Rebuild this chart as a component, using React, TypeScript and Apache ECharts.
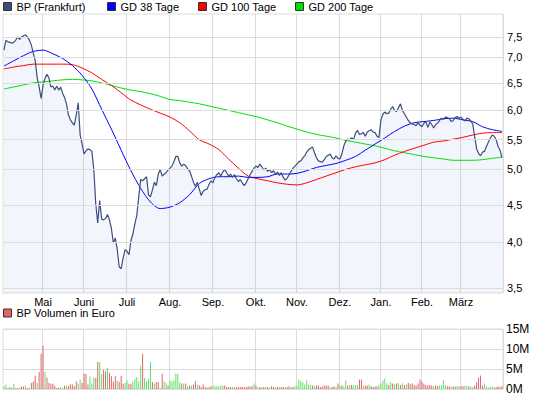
import React, { useEffect, useRef } from "react";
import * as echarts from "echarts";

// ---- data -------------------------------------------------------------
const firstDay = "2010-04-01";
const lastDay = "2011-03-30";
const holidays = ["2010-04-02", "2010-04-05", "2010-12-24", "2010-12-31"];
const monthNames = ["Jan.", "Feb.", "März", "Apr.", "Mai", "Juni", "Juli", "Aug.", "Sep.", "Okt.", "Nov.", "Dez."];
const priceTicks = [3.5, 4.0, 4.5, 5.0, 5.5, 6.0, 6.5, 7.0, 7.5];
const priceMin = 3.437;
const priceMax = 8.01;
const volumeTicks = [0, 5, 10, 15];
const legendNames = ["BP (Frankfurt)", "GD 38 Tage", "GD 100 Tage", "GD 200 Tage"];

// BP (Frankfurt) closing price, EUR, one value per trading day
const price = [
  7.18, 7.40, 7.36, 7.35, 7.33, 7.35, 7.40, 7.47, 7.42, 7.47,
  7.50, 7.52, 7.47, 7.40, 7.29, 7.12, 6.95, 6.60, 6.42, 6.20,
  6.45, 6.59, 6.67, 6.60, 6.42, 6.44, 6.36, 6.44, 6.36, 6.42,
  6.30, 6.22, 6.10, 5.90, 5.81, 5.76, 5.72, 5.90, 6.12, 5.55,
  5.40, 5.24, 5.29, 5.32, 5.31, 5.28, 5.00, 4.50, 4.25, 4.55,
  4.30, 4.29, 4.31, 4.36, 4.29, 4.18, 4.00, 4.06, 3.92, 3.72,
  3.70, 3.82, 3.92, 3.90, 3.86, 4.03, 4.11, 4.24, 4.35, 4.60,
  4.85, 4.83, 4.86, 4.89, 4.63, 4.60, 4.70, 4.81, 4.76, 4.93,
  5.00, 4.90, 4.93, 4.95, 4.99, 5.02, 5.05, 5.12, 5.20, 5.20,
  5.10, 5.05, 5.08, 5.06, 5.01, 4.98, 4.90, 4.81, 4.75, 4.81,
  4.71, 4.62, 4.68, 4.70, 4.71, 4.78, 4.83, 4.80, 4.88, 4.92,
  4.95, 4.90, 4.96, 5.00, 4.95, 4.90, 4.93, 4.88, 4.92, 4.86,
  4.82, 4.85, 4.80, 4.76, 4.80, 4.86, 4.92, 4.97, 5.02, 5.05,
  5.03, 5.08, 5.04, 4.99, 5.02, 4.97, 5.00, 4.95, 4.98, 4.93,
  4.96, 4.91, 4.95, 4.88, 4.84, 4.87, 4.92, 4.97, 5.02, 5.05,
  5.08, 5.12, 5.13, 5.18, 5.21, 5.27, 5.31, 5.33, 5.35, 5.26,
  5.18, 5.13, 5.12, 5.11, 5.15, 5.20, 5.22, 5.24, 5.18, 5.16,
  5.21, 5.17, 5.16, 5.24, 5.37, 5.45, 5.48, 5.47, 5.50, 5.48,
  5.58, 5.63, 5.56, 5.57, 5.59, 5.53, 5.60, 5.62, 5.64, 5.60,
  5.59, 5.53, 5.51, 5.81, 5.91, 5.95, 5.92, 5.93, 6.00, 6.05,
  5.98, 5.96, 6.03, 6.10, 5.98, 5.92, 5.86, 5.80, 5.76, 5.74,
  5.73, 5.71, 5.76, 5.72, 5.69, 5.75, 5.78, 5.68, 5.77, 5.73,
  5.67, 5.73, 5.75, 5.80, 5.84, 5.82, 5.86, 5.85, 5.83, 5.78,
  5.80, 5.85, 5.87, 5.84, 5.86, 5.82, 5.79, 5.84, 5.83, 5.79,
  5.74, 5.52, 5.32, 5.25, 5.21, 5.27, 5.28, 5.36, 5.43, 5.50,
  5.55, 5.53, 5.47, 5.36, 5.30, 5.18,
];

// moving averages, read every 5th trading day
const maStep = 5;
const ma38 = [
  6.84, 6.95, 7.06, 7.15, 7.18, 7.10, 7.00, 6.85, 6.65, 6.38,
  6.00, 5.65, 5.30, 4.98, 4.72, 4.53, 4.44, 4.46, 4.52, 4.63,
  4.79, 4.86, 4.89, 4.89, 4.90, 4.88, 4.88, 4.89, 4.93, 4.93,
  4.94, 4.98, 5.03, 5.06, 5.09, 5.14, 5.20, 5.30, 5.40, 5.50,
  5.61, 5.70, 5.76, 5.78, 5.80, 5.83, 5.84, 5.81, 5.78, 5.69,
  5.64, 5.61,
];
const ma100 = [
  6.78, 6.82, 6.85, 6.88, 6.88, 6.88, 6.88, 6.87, 6.80, 6.70,
  6.57, 6.45, 6.31, 6.17, 6.08, 6.00, 5.93, 5.86, 5.76, 5.62,
  5.47, 5.40, 5.31, 5.16, 5.02, 4.90, 4.86, 4.83, 4.80, 4.78,
  4.77, 4.80, 4.85, 4.90, 4.95, 5.00, 5.04, 5.07, 5.10, 5.15,
  5.22, 5.28, 5.33, 5.38, 5.43, 5.45, 5.48, 5.51, 5.55, 5.58,
  5.59, 5.59,
];
const ma200 = [
  6.38, 6.42, 6.46, 6.50, 6.52, 6.54, 6.56, 6.57, 6.56, 6.54,
  6.50, 6.45, 6.40, 6.36, 6.33, 6.29, 6.24, 6.18, 6.16, 6.13,
  6.10, 6.06, 6.02, 5.98, 5.94, 5.90, 5.86, 5.81, 5.76, 5.70,
  5.65, 5.60, 5.56, 5.53, 5.50, 5.46, 5.43, 5.40, 5.37, 5.33,
  5.29, 5.26, 5.23, 5.20, 5.18, 5.16, 5.14, 5.14, 5.14, 5.15,
  5.17, 5.19,
];

// volume in million EUR, with r = down day, g = up day
const volume = [
  0.7, 1.1, 0.25, 0.5, 0.25, 1.3, 0.3, 0.25, 0.4, 0.6,
  0.6, 0.8, 0.25, 0.3, 1.5, 1.9, 3.3, 1.5, 4.25, 8.8,
  10.8, 4.25, 2.9, 1.5, 1.3, 1.3, 0.8, 0.25, 0.3, 0.5,
  0.15, 0.8, 0.8, 0.7, 1.1, 1.1, 0.7, 1.9, 1.3, 2.3,
  1.5, 3.8, 3.8, 1.1, 3.2, 1.3, 2.9, 2.75, 6.75, 6.75,
  3.6, 4.8, 4.4, 5.25, 4.0, 3.2, 1.9, 3.3, 2.1, 1.8,
  3.3, 1.3, 1.5, 2.1, 1.3, 1.3, 1.9, 2.5, 3.0, 1.9,
  5.8, 8.8, 2.75, 1.9, 2.5, 6.75, 1.7, 1.3, 1.75, 1.7,
  0.25, 3.8, 1.9, 1.5, 0.9, 2.1, 1.9, 2.1, 3.8, 3.8,
  1.7, 1.4, 1.35, 1.35, 0.7, 0.85, 0.85, 1.1, 2.0, 1.1,
  0.85, 0.5, 1.1, 0.5, 0.4, 0.5, 0.7, 0.9, 0.7, 0.7,
  0.6, 0.85, 0.9, 0.85, 0.5, 0.5, 0.5, 0.5, 0.4, 0.5,
  0.5, 0.5, 0.5, 0.5, 0.5, 0.7, 0.6, 0.7, 1.35, 0.85,
  0.4, 0.5, 0.5, 0.5, 0.5, 0.5, 0.4, 0.7, 0.5, 0.5,
  0.5, 0.4, 0.5, 0.5, 0.5, 0.5, 0.7, 0.5, 0.5, 0.7,
  0.85, 2.35, 2.0, 1.7, 1.1, 2.1, 1.1, 1.0, 0.85, 0.7,
  0.85, 0.85, 0.5, 0.6, 0.85, 0.85, 0.85, 0.4, 0.5, 0.7,
  0.5, 1.35, 0.85, 0.85, 0.6, 2.1, 0.85, 1.0, 1.0, 0.85,
  1.0, 1.0, 2.35, 2.35, 0.7, 0.85, 0.85, 1.1, 0.7, 0.5,
  0.6, 0.7, 1.0, 1.35, 2.1, 2.6, 1.35, 1.0, 1.7, 1.35,
  1.2, 1.35, 1.5, 1.0, 1.35, 1.0, 1.1, 1.5, 1.2, 1.35,
  1.0, 0.85, 1.35, 2.35, 1.85, 1.35, 1.0, 0.85, 1.0, 0.8,
  0.7, 0.85, 0.7, 0.85, 0.85, 2.2, 1.0, 0.7, 0.7, 0.5,
  0.7, 0.6, 0.7, 0.7, 0.7, 0.7, 0.85, 0.7, 0.7, 0.6,
  0.5, 0.85, 1.7, 2.9, 3.4, 0.85, 1.35, 0.7, 0.4, 0.5,
  0.7, 0.4, 0.5, 0.7, 0.5, 0.7,
];
const volumeDir =
  "gggrrggrgr" + "rgrgrrrgrr" + "rgrrrrrrrg" + "rrgrrrrrgg" + "rrrrgggrrg" +
  "grrgrrrrgr" + "rrggrrgggg" + "grggggrgrr" + "grggrggggg" +
  "grgrgrgrrg" + "rrrrrrrggg" + "gggrrrrgrr" + "rrrrrrrrgr" + "grgrgrgrrg" +
  "rrrrgrrgrg" + "ggggggggrg" + "rrrrrrrgrr" + "grgrggrgrg" + "ggrrgrrgrr" +
  "rrgggggrgr" + "grgrgrgrrr" + "rrrrrrrrrr" + "grrggggrrg" + "rrggrrggrg" +
  "grrrrrgggg" + "grrrrr";

// ---- helpers ----------------------------------------------------------
function tradingDays(): string[] {
  const out: string[] = [];
  let t = Date.parse(firstDay + "T00:00:00Z");
  const end = Date.parse(lastDay + "T00:00:00Z");
  while (t <= end) {
    const d = new Date(t);
    const wd = d.getUTCDay();
    const s = d.toISOString().slice(0, 10);
    if (wd !== 0 && wd !== 6 && !holidays.includes(s)) out.push(s);
    t += 86400000;
  }
  return out;
}

const FONT = "'Liberation Sans', Arial, sans-serif";
const GRID_COLOR = "#dcdcdc";
const legendLefts = [3, 107, 198, 295];

export default function App() {
  const ref = useRef<HTMLDivElement>(null);

  useEffect(() => {
    document.body.style.margin = "0";
    if (!ref.current) return;
    const chart = echarts.init(ref.current, undefined, { renderer: "svg" });

    const dates = tradingDays();
    const monthStart = dates.map((d, i) => i > 0 && d.slice(0, 7) !== dates[i - 1].slice(0, 7));
    const isStart = (i: number) => !!monthStart[i];
    const monthLabel = (v: string) => monthNames[parseInt(v.slice(5, 7), 10) - 1];

    const logPrice = price.map((p) => Math.log(p));
    const maData = (arr: number[]) => arr.map((v, k) => [k * maStep, Math.log(v)]);

    const xBase = (gridIndex: number, labels: boolean) => ({
      type: "category" as const,
      gridIndex,
      data: dates,
      boundaryGap: true,
      axisLine: { show: false },
      axisTick: { show: false },
      splitLine: { show: true, interval: isStart, lineStyle: { color: GRID_COLOR, width: 1 } },
      axisLabel: {
        show: labels,
        interval: isStart,
        formatter: monthLabel,
        fontFamily: FONT,
        fontSize: 11,
        lineHeight: 10,
        color: "#000",
        margin: 4,
      },
    });

    const legendText = { fontFamily: FONT, fontSize: 11, color: "#000", lineHeight: 10 };
    const legendBase = {
      padding: 0,
      icon: "rect",
      itemWidth: 8,
      itemHeight: 8,
      selectedMode: false,
      textStyle: legendText,
      itemStyle: { borderColor: "#333", borderWidth: 1 },
    };

    chart.setOption({
      animation: false,
      textStyle: { fontFamily: FONT },
      legend: [
        ...legendNames.map((n, k) => ({ ...legendBase, data: [n], left: legendLefts[k], top: 1 })),
        { ...legendBase, data: ["BP Volumen in Euro"], left: 3, top: 307.5 },
      ],
      grid: [
        { left: 3, right: 42, top: 14, height: 279, show: true, borderColor: GRID_COLOR, borderWidth: 1 },
        { left: 3, right: 42, top: 329, height: 60, show: true, borderColor: GRID_COLOR, borderWidth: 1 },
      ],
      xAxis: [xBase(0, true), xBase(1, false)],
      yAxis: [
        {
          type: "value",
          gridIndex: 0,
          min: Math.log(priceMin),
          max: Math.log(priceMax),
          show: false,
          splitLine: { show: false },
        },
        {
          type: "value",
          gridIndex: 1,
          position: "right",
          min: volumeTicks[0],
          max: volumeTicks[volumeTicks.length - 1],
          interval: volumeTicks[1] - volumeTicks[0],
          axisLine: { show: false },
          axisTick: { show: false },
          axisLabel: {
            formatter: (v: number) => `${v}M`,
            fontFamily: FONT,
            fontSize: 12,
            color: "#000",
            margin: 3,
          },
          splitLine: { show: true, lineStyle: { color: GRID_COLOR, width: 1 } },
        },
      ],
      series: [
        {
          name: "fill",
          type: "line",
          xAxisIndex: 0,
          yAxisIndex: 0,
          data: logPrice,
          symbol: "none",
          silent: true,
          z: 1,
          lineStyle: { width: 0, opacity: 0 },
          areaStyle: { color: "rgba(90,120,210,0.10)", origin: "start" },
          markLine: {
            silent: true,
            symbol: ["none", "none"],
            animation: false,
            lineStyle: { color: GRID_COLOR, type: "solid", width: 1 },
            emphasis: { disabled: true },
            label: {
              position: "end",
              distance: 4,
              color: "#000",
              fontFamily: FONT,
              fontSize: 11,
            },
            data: priceTicks.map((v) => ({
              yAxis: Math.log(v),
              label: { formatter: v.toFixed(1).replace(".", ",") },
            })),
          },
        },
        {
          name: "GD 200 Tage",
          type: "line",
          data: maData(ma200),
          symbol: "none",
          smooth: 0.3,
          z: 3,
          itemStyle: { color: "#00e000" },
          lineStyle: { color: "#00e000", width: 1 },
        },
        {
          name: "GD 100 Tage",
          type: "line",
          data: maData(ma100),
          symbol: "none",
          smooth: 0.3,
          z: 3,
          itemStyle: { color: "#ff0000" },
          lineStyle: { color: "#ff0000", width: 1 },
        },
        {
          name: "GD 38 Tage",
          type: "line",
          data: maData(ma38),
          symbol: "none",
          smooth: 0.3,
          z: 3,
          itemStyle: { color: "#0000ff" },
          lineStyle: { color: "#0000ff", width: 1 },
        },
        {
          name: "BP (Frankfurt)",
          type: "line",
          data: logPrice,
          symbol: "none",
          z: 4,
          itemStyle: { color: "#3c4f7c" },
          lineStyle: { color: "#3c4f7c", width: 1.2 },
        },
        {
          name: "BP Volumen in Euro",
          type: "bar",
          xAxisIndex: 1,
          yAxisIndex: 1,
          barWidth: 1,
          itemStyle: { color: "#e06666" },
          data: volume.map((v, i) => ({
            value: v,
            itemStyle: { color: volumeDir[i] === "g" ? "#66dd66" : "#e06666" },
          })),
        },
      ],
    });

    return () => chart.dispose();
  }, []);

  return <div ref={ref} style={{ width: 545, height: 398 }} />;
}
